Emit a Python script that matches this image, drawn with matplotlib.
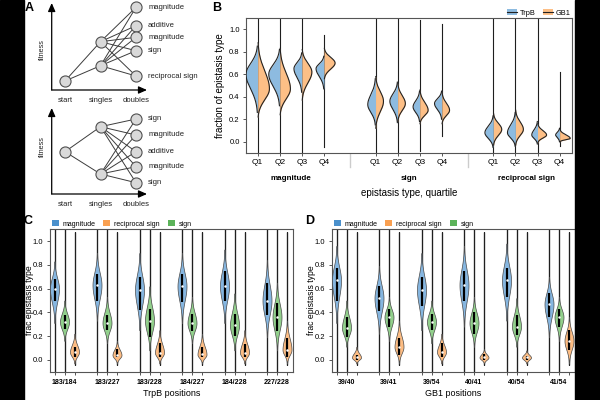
import numpy as np
import matplotlib
matplotlib.use('Agg')
import matplotlib.pyplot as plt
from matplotlib.patches import Patch, Rectangle
from matplotlib.lines import Line2D
import matplotlib.transforms as mtransforms

plt.rcParams['font.family'] = ['Liberation Sans', 'DejaVu Sans']

# ---------------- Panel A data ----------------
stages = ['start', 'singles', 'doubles']
topA_start = [0.9]
topA_singles = [4.83, 2.43]
topA_doubles = [8.27, 6.43, 5.27, 3.93, 1.4]
topA_labels = ['magnitude', 'additive', 'magnitude', 'sign', 'reciprocal sign']
botA_start = [4.23]
botA_singles = [6.73, 2.0]
botA_doubles = [7.5, 5.9, 4.23, 2.73, 1.13]
botA_labels = ['sign', 'magnitude', 'additive', 'magnitude', 'sign']

# ---------------- Panel B data ----------------
b_groups = ['magnitude', 'sign', 'reciprocal sign']
b_quartiles = ['Q1', 'Q2', 'Q3', 'Q4']
b_series = ['TrpB', 'GB1']
trpb_peak = [[0.60, 0.60, 0.65, 0.65], [0.33, 0.36, 0.31, 0.34], [0.08, 0.08, 0.06, 0.06]]
trpb_lo = [[0.26, 0.32, 0.44, 0.47], [0.15, 0.17, 0.18, 0.20], [-0.05, -0.04, -0.02, 0.0]]
trpb_hi = [[0.85, 0.82, 0.79, 0.76], [0.56, 0.53, 0.45, 0.45], [0.23, 0.26, 0.18, 0.12]]
trpb_w = [[0.53, 0.50, 0.36, 0.36], [0.35, 0.35, 0.30, 0.33], [0.38, 0.36, 0.26, 0.18]]
gb1_peak = [[0.47, 0.47, 0.62, 0.70], [0.36, 0.34, 0.28, 0.28], [0.11, 0.11, 0.06, 0.03]]
gb1_lo = [[0.22, 0.24, 0.37, 0.56], [0.12, 0.18, 0.16, 0.16], [-0.03, -0.03, -0.01, 0.0]]
gb1_hi = [[0.88, 0.83, 0.82, 0.83], [0.58, 0.52, 0.46, 0.44], [0.25, 0.28, 0.16, 0.11]]
gb1_w = [[0.53, 0.48, 0.45, 0.50], [0.36, 0.35, 0.38, 0.35], [0.38, 0.36, 0.41, 0.48]]
b_tail_lo = [[-0.15, -0.15, -0.15, -0.05], [-0.15, -0.15, -0.08, 0.05], [-0.15, -0.15, -0.15, -0.04]]
b_tail_hi = [[1.15, 1.15, 1.15, 0.95], [1.15, 1.15, 1.08, 1.05], [1.15, 1.15, 1.15, 0.62]]

# ---------------- Panel C data (TrpB) ----------------
c_positions = ['183/184', '183/227', '183/228', '184/227', '184/228', '227/228']
c_mag_med = [0.60, 0.63, 0.59, 0.62, 0.62, 0.50]
c_mag_q1 = [0.50, 0.50, 0.42, 0.49, 0.50, 0.38]
c_mag_q3 = [0.68, 0.72, 0.70, 0.72, 0.75, 0.65]
c_mag_lo = [0.31, 0.33, 0.25, 0.31, 0.31, 0.19]
c_mag_hi = [0.83, 0.90, 0.90, 0.90, 0.93, 0.84]
c_sign_med = [0.32, 0.31, 0.33, 0.31, 0.29, 0.36]
c_sign_q1 = [0.26, 0.25, 0.19, 0.24, 0.20, 0.24]
c_sign_q3 = [0.38, 0.38, 0.43, 0.39, 0.39, 0.48]
c_sign_lo = [0.16, 0.14, 0.08, 0.14, 0.08, 0.08]
c_sign_hi = [0.50, 0.53, 0.62, 0.53, 0.56, 0.65]
c_rec_med = [0.065, 0.04, 0.06, 0.045, 0.06, 0.085]
c_rec_q1 = [0.02, 0.02, 0.02, 0.02, 0.02, 0.02]
c_rec_q3 = [0.11, 0.09, 0.14, 0.11, 0.13, 0.18]
c_rec_lo = [-0.03, -0.03, -0.03, -0.03, -0.03, -0.03]
c_rec_hi = [0.22, 0.16, 0.25, 0.22, 0.25, 0.33]

# ---------------- Panel D data (GB1) ----------------
d_positions = ['39/40', '39/41', '39/54', '40/41', '40/54', '41/54']
d_mag_med = [0.67, 0.52, 0.59, 0.63, 0.67, 0.47]
d_mag_q1 = [0.50, 0.41, 0.45, 0.50, 0.53, 0.36]
d_mag_q3 = [0.77, 0.62, 0.70, 0.75, 0.77, 0.56]
d_mag_lo = [0.31, 0.22, 0.25, 0.28, 0.33, 0.19]
d_mag_hi = [0.96, 0.79, 0.90, 0.96, 0.98, 0.70]
d_sign_med = [0.27, 0.36, 0.32, 0.31, 0.28, 0.36]
d_sign_q1 = [0.19, 0.28, 0.25, 0.22, 0.21, 0.28]
d_sign_q3 = [0.36, 0.43, 0.39, 0.40, 0.38, 0.43]
d_sign_lo = [0.11, 0.16, 0.14, 0.11, 0.11, 0.16]
d_sign_hi = [0.50, 0.53, 0.50, 0.53, 0.52, 0.53]
d_rec_med = [0.02, 0.11, 0.065, 0.02, 0.02, 0.16]
d_rec_q1 = [0.0, 0.04, 0.02, 0.0, 0.0, 0.08]
d_rec_q3 = [0.04, 0.18, 0.14, 0.05, 0.03, 0.25]
d_rec_lo = [-0.03, -0.03, -0.03, -0.03, -0.03, -0.03]
d_rec_hi = [0.11, 0.33, 0.22, 0.09, 0.08, 0.36]

type_names = ['magnitude', 'reciprocal sign', 'sign']

# ---------------- styling ----------------
B_BLUE, B_ORANGE = '#8dbbe0', '#fdbf86'
C_FILL = {'magnitude': '#86b6e0', 'sign': '#92d08c', 'reciprocal sign': '#fdbd84'}
C_LEG = {'magnitude': '#4a90cc', 'sign': '#5cb35a', 'reciprocal sign': '#f9a051'}
FRAME = '#555555'

fig = plt.figure(figsize=(6, 4), dpi=100)


def px_axes(l, t, r, b):
    return fig.add_axes([l / 600, 1 - b / 400, (r - l) / 600, (b - t) / 400])


def profile(peak, lo, hi, n=150):
    y = np.linspace(lo, hi, n)
    sd = np.where(y < peak, (peak - lo) / 2.6, (hi - peak) / 2.6)
    v = np.exp(-0.5 * ((y - peak) / sd) ** 2)
    return y, v


# ---------------- Panel A ----------------
def draw_diagram(ax, start, singles, doubles, labels, ymax, lab_y):
    ax.set_xlim(-0.375, 2.31)
    ax.set_ylim(0, ymax)
    for s in ax.spines.values():
        s.set_visible(False)
    ax.set_yticks([])
    ax.set_xticks([])
    lc = '#3c3c3c'
    for f in singles:
        ax.plot([0, 1], [start[0], f], color=lc, lw=0.7, zorder=1)
        for d in doubles:
            ax.plot([1, 2], [f, d], color=lc, lw=0.7, zorder=1)
    for xs, vals in ((0, start), (1, singles), (2, doubles)):
        ax.plot([xs] * len(vals), vals, 'o', ms=8, mfc='#d9d9d9', mec='#505050', mew=0.8,
                zorder=3, clip_on=False)
    for d, lab in zip(doubles, labels):
        ax.text(2.34, d, lab, fontsize=5.5, ha='left', va='center', color='#222222')
    ax.annotate('', xy=(0, 1.0), xytext=(0, 0), xycoords='axes fraction',
                arrowprops=dict(arrowstyle='-|>,head_length=0.5,head_width=0.22', color='black', lw=0.9,
                                shrinkA=0, shrinkB=0))
    ax.annotate('', xy=(1.0, 0), xytext=(0, 0), xycoords='axes fraction',
                arrowprops=dict(arrowstyle='-|>,head_length=0.5,head_width=0.22', color='black', lw=0.9,
                                shrinkA=0, shrinkB=0))
    ax.text(-0.1, lab_y, 'fitness', transform=ax.transAxes, rotation=90, fontsize=5.2,
            ha='center', va='center', color='#222222')


axA1 = px_axes(51.7, 3, 147, 90)
draw_diagram(axA1, topA_start, topA_singles, topA_doubles, topA_labels, 8.7, 0.46)
for i, st in enumerate(stages):
    axA1.text(i, -11 / 87 * 8.7, st, fontsize=5.5, ha='center', va='center', color='#222222')
axA2 = px_axes(51.7, 108, 147, 194)
draw_diagram(axA2, botA_start, botA_singles, botA_doubles, botA_labels, 8.6, 0.55)
for i, st in enumerate(stages):
    axA2.text(i, -10 / 86 * 8.6, st, fontsize=5.5, ha='center', va='center', color='#222222')

# ---------------- Panel B ----------------
axB = px_axes(246, 18, 572, 153)
group_gap = 5.33
xB = []
for g in range(len(b_groups)):
    for q in range(len(b_quartiles)):
        x = g * group_gap + q
        xB.append(x)
        axB.plot([x, x], [b_tail_lo[g][q], b_tail_hi[g][q]], color='#1e1e1e', lw=0.8, zorder=2)
        y, v = profile(trpb_peak[g][q], trpb_lo[g][q], trpb_hi[g][q])
        v = v * trpb_w[g][q]
        axB.fill_betweenx(y, x - v, x, color=B_BLUE, lw=0, zorder=3)
        axB.plot(x - v, y, color='#222222', lw=0.8, zorder=4)
        y, v = profile(gb1_peak[g][q], gb1_lo[g][q], gb1_hi[g][q])
        v = v * gb1_w[g][q]
        axB.fill_betweenx(y, x, x + v, color=B_ORANGE, lw=0, zorder=3)
        axB.plot(x + v, y, color='#222222', lw=0.8, zorder=4)
axB.set_xlim(-0.53, 14.22)
axB.set_ylim(-0.1, 1.1)
axB.set_yticks(np.arange(0, 1.01, 0.2))
axB.set_yticklabels(['%.1f' % t for t in np.arange(0, 1.01, 0.2)])
axB.set_xticks(xB)
axB.set_xticklabels(b_quartiles * len(b_groups))
axB.tick_params(axis='x', labelsize=6)
axB.tick_params(axis='y', labelsize=5.5)
axB.tick_params(length=2.5, width=0.7, pad=2, color=FRAME)
for s in axB.spines.values():
    s.set_color(FRAME)
    s.set_linewidth(0.8)
trB = mtransforms.blended_transform_factory(axB.transData, axB.transAxes)
for g, name in enumerate(b_groups):
    axB.text(g * group_gap + 1.5, -0.19, name, transform=trB, fontsize=5.8, fontweight='bold',
             ha='center', va='center')
for g in range(len(b_groups) - 1):
    xm = g * group_gap + 3 + (group_gap - 3) / 2
    axB.plot([xm, xm], [-0.01, -0.105], transform=trB, color='#cccccc', lw=1.0, clip_on=False)
axB.text(0.5, -0.296, 'epistasis type, quartile', transform=axB.transAxes, fontsize=7,
         ha='center', va='center')
axB.text(-0.08, 0.5, 'fraction of epistasis type', transform=axB.transAxes, fontsize=7,
         rotation=90, ha='center', va='center')
hB = [(Patch(facecolor=B_BLUE, edgecolor='none'), Line2D([0], [0], color='#222222', lw=0.8)),
      (Patch(facecolor=B_ORANGE, edgecolor='none'), Line2D([0], [0], color='#222222', lw=0.8))]
axB.legend(hB, b_series, loc='lower right', bbox_to_anchor=(1.0, 1.0), ncol=2, frameon=False,
           fontsize=5.3, handlelength=1.3, handleheight=1.0, handletextpad=0.4, columnspacing=1.0,
           borderaxespad=0.1, borderpad=0.1)


# ---------------- Panels C and D ----------------
def violin_panel(ax, positions, stats, xlabel):
    gap = 4.25
    ticks, tlabels = [], []
    for g in range(len(positions)):
        for k, tname in enumerate(['magnitude', 'sign', 'reciprocal sign']):
            med, q1, q3, lo, hi = [s[g] for s in stats[tname]]
            x = g * gap + k
            ticks.append(x)
            tlabels.append(positions[g] if k == 1 else '')
            tl = (-0.1, 1.1) if tname != 'reciprocal sign' else (-0.04, 1.08)
            ax.plot([x, x], tl, color='#aaaaaa', lw=2.0, alpha=0.5, zorder=1, solid_capstyle='butt')
            ax.plot([x, x], tl, color='#1a1a1a', lw=0.7, zorder=2)
            y, v = profile(med, lo, hi)
            v = v * 0.45
            ax.fill_betweenx(y, x - v, x + v, facecolor=C_FILL[tname], edgecolor='#4a4a4a',
                             lw=0.5, zorder=3)
            ax.plot([x, x], [q1, q3], color='black', lw=1.6, zorder=4, solid_capstyle='butt')
            ax.plot([x], [med], 'o', ms=1.8, mfc='white', mec='white', mew=0, zorder=5)
    ax.set_xlim(-0.45, 23.8)
    ax.set_ylim(-0.1, 1.1)
    ax.set_yticks(np.arange(0, 1.01, 0.2))
    ax.set_yticklabels(['%.1f' % t for t in np.arange(0, 1.01, 0.2)])
    ax.set_xticks(ticks)
    ax.set_xticklabels(tlabels, fontweight='bold', fontsize=5)
    ax.tick_params(axis='y', labelsize=5.5)
    ax.tick_params(length=2.5, width=0.7, pad=2.5, color=FRAME)
    for s in ax.spines.values():
        s.set_color(FRAME)
        s.set_linewidth(0.8)
    ax.text(0.5, -0.152, xlabel, transform=ax.transAxes, fontsize=6.5, ha='center', va='center')
    ax.text(-0.086, 0.5, 'frac epistasis type', transform=ax.transAxes, fontsize=6.2,
            rotation=90, ha='center', va='center')
    hs = [Patch(facecolor=C_LEG[t], edgecolor='none') for t in type_names]
    ax.legend(hs, type_names, loc='lower left', bbox_to_anchor=(0.0, 1.0), ncol=3, frameon=False,
              fontsize=5, handlelength=1.0, handleheight=1.0, handletextpad=0.5, columnspacing=1.2,
              borderaxespad=0.15, borderpad=0.1)


axC = px_axes(50, 229.3, 292.5, 371.7)
violin_panel(axC, c_positions, {
    'magnitude': [c_mag_med, c_mag_q1, c_mag_q3, c_mag_lo, c_mag_hi],
    'sign': [c_sign_med, c_sign_q1, c_sign_q3, c_sign_lo, c_sign_hi],
    'reciprocal sign': [c_rec_med, c_rec_q1, c_rec_q3, c_rec_lo, c_rec_hi]}, 'TrpB positions')
axD = px_axes(332, 229.3, 574.5, 371.7)
violin_panel(axD, d_positions, {
    'magnitude': [d_mag_med, d_mag_q1, d_mag_q3, d_mag_lo, d_mag_hi],
    'sign': [d_sign_med, d_sign_q1, d_sign_q3, d_sign_lo, d_sign_hi],
    'reciprocal sign': [d_rec_med, d_rec_q1, d_rec_q3, d_rec_lo, d_rec_hi]}, 'GB1 positions')

# ---------------- panel letters & borders ----------------
for lab, (px, py) in {'A': (29, 8), 'B': (216.7, 8), 'C': (28, 220.7), 'D': (310, 220.7)}.items():
    fig.text(px / 600, 1 - py / 400, lab, fontsize=9, fontweight='bold', ha='center', va='center')
fig.add_artist(Rectangle((0, 0), 24 / 600, 1, transform=fig.transFigure, color='black', zorder=20))
fig.add_artist(Rectangle((575 / 600, 0), 25 / 600, 1, transform=fig.transFigure, color='black', zorder=20))

fig.savefig('out.png', dpi=100)
